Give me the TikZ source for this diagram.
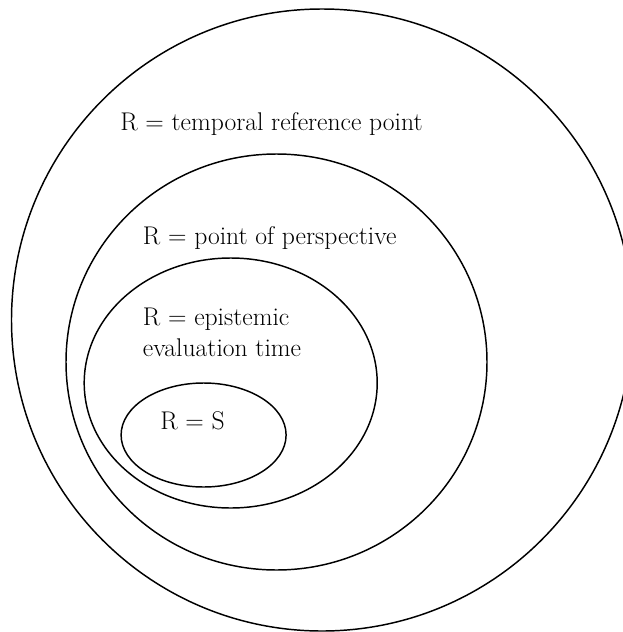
\documentclass[tikz,border=0pt]{standalone}
\usetikzlibrary{shapes.geometric}

\begin{document}
\begin{tikzpicture}[
  x=0.75pt, y=-0.75pt,
  ring/.style n args={2}{ellipse, draw=black, line width=1.1pt, inner sep=0pt,
    minimum width=#1, minimum height=#2},
  ringtext/.style={inner sep=0pt, anchor=base west, align=left,
    font=\fontsize{19.2}{23.25}\selectfont}
]

% === Page (reference size in px) ===
\useasboundingbox (0,0) rectangle (623,632);

% === Centres of the nested rings ===
\coordinate (Ctref) at (322,320);    % outer circle
\coordinate (Cpersp) at (276.5,362); % second ring
\coordinate (Cepist) at (230.7,383); % third ring
\coordinate (Cspeech) at (203.6,435);% innermost ring

% === Rings (outermost first) ===
\node[ring={465.75pt}{466.5pt}] (tref) at (Ctref) {};
\node[ring={315.75pt}{312pt}]   (persp) at (Cpersp) {};
\node[ring={219.75pt}{187.5pt}] (epist) at (Cepist) {};
\node[ring={123.75pt}{78pt}]    (speech) at (Cspeech) {};

% === Labels ===
\node[ringtext] (treftext)   at (120,130)   {R = temporal reference point};
\node[ringtext] (persptext)  at (142.7,244) {R = point of perspective};
\node[ringtext] (episttext)  at (142.7,356) {R = epistemic\\evaluation time}; % base = last line
\node[ringtext] (speechtext) at (160,429)   {R = S};

\end{tikzpicture}
\end{document}
